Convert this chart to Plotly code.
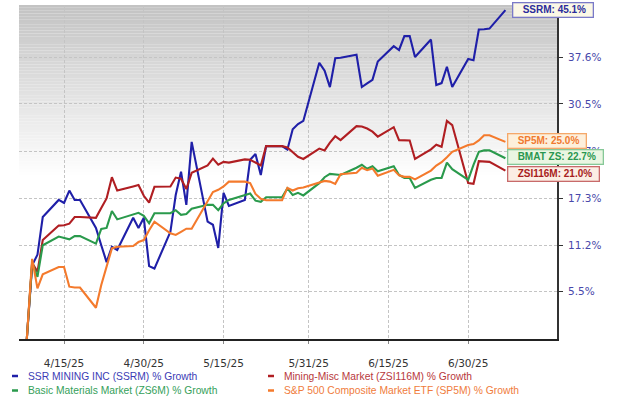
import math
import plotly.graph_objects as go

# ---------------- data ----------------
dates = ["2025-04-08", "2025-04-09", "2025-04-10", "2025-04-11", "2025-04-14", "2025-04-15",
         "2025-04-16", "2025-04-17", "2025-04-18", "2025-04-21", "2025-04-22", "2025-04-23",
         "2025-04-24", "2025-04-25", "2025-04-28", "2025-04-29", "2025-04-30",
         "2025-05-01", "2025-05-02", "2025-05-05", "2025-05-06", "2025-05-07", "2025-05-08",
         "2025-05-09", "2025-05-12", "2025-05-13", "2025-05-14", "2025-05-15", "2025-05-16",
         "2025-05-19", "2025-05-20", "2025-05-21", "2025-05-22", "2025-05-23", "2025-05-26",
         "2025-05-27", "2025-05-28", "2025-05-29", "2025-05-30",
         "2025-06-02", "2025-06-03", "2025-06-04", "2025-06-05", "2025-06-06", "2025-06-09",
         "2025-06-10", "2025-06-11", "2025-06-12", "2025-06-13", "2025-06-16", "2025-06-17",
         "2025-06-18", "2025-06-19", "2025-06-20", "2025-06-23", "2025-06-24", "2025-06-25",
         "2025-06-26", "2025-06-27", "2025-06-30",
         "2025-07-01", "2025-07-02", "2025-07-03", "2025-07-04", "2025-07-07"]

ssrm_growth = [0, 8.7, 10.0, 14.8, 17.05, 16.65, 18.3, 17.05, 17.05, 13.4, 11.2, 9.1, 11.0, 10.6,
               14.7, 13.4, 14.7,
               8.6, 8.3, 12.9, 17.7, 20.85, 16.4, 25.0, 14.2, 13.8, 10.85, 18.0, 16.25, 17.05,
               22.5, 23.3, 20.4, 24.4, 24.4, 23.9, 26.8, 27.55, 28.0,
               36.7, 35.5, 33.0, 37.4, 37.5, 37.95, 33.0, 33.55, 34.1, 36.9, 39.3, 38.7, 40.9,
               40.9, 37.6, 40.35, 33.3, 33.6, 36.1, 33.0, 37.3,
               37.1, 41.95, 42.0, 42.1, 45.1]

zsi116m_growth = [0, 9.0, 7.9, 11.85, 13.7, 13.75, 13.95, 14.8, 14.8, 14.7, 16.0, 17.25, 20.1, 18.3,
                  18.85, 19.05, 17.6,
                  16.7, 18.8, 18.85, 20.05, 19.9, 18.5, 20.7, 21.7, 22.65, 21.8, 22.2, 22.1, 22.55,
                  22.5, 22.1, 21.7, 24.4, 24.4, 24.2, 23.5, 22.9, 22.6,
                  24.05, 23.8, 24.9, 25.8, 25.25, 27.25, 27.2, 26.9, 26.45, 25.75, 27.1, 25.25, 25.2,
                  25.2, 22.6, 23.95, 24.6, 24.3, 28.0, 27.4, 19.3,
                  19.2, 22.3, 22.2, 22.2, 21.0]

zs6m_growth = [0, 9.0, 7.3, 11.2, 12.3, 12.1, 11.95, 12.35, 12.35, 11.4, 13.26, 13.4, 15.6, 14.5,
               15.15, 15.35, 14.95,
               14.0, 15.3, 15.3, 15.7, 15.1, 15.2, 15.9, 16.4, 16.4, 15.7, 16.6, 17.05, 17.7,
               17.9, 16.95, 16.8, 17.4, 17.4, 18.6, 17.7, 18.0, 17.65,
               19.3, 20.1, 20.55, 20.5, 20.4, 21.4, 21.8, 21.25, 21.6, 20.9, 21.6, 20.4, 20.0,
               20.0, 18.65, 19.75, 20.0, 20.0, 22.1, 21.2, 19.75,
               21.8, 23.6, 23.8, 23.8, 22.7]

sp5m_growth = [0, 9.5, 5.9, 7.6, 8.5, 8.5, 6.1, 6.0, 6.0, 3.6, 6.3, 8.4, 10.8, 11.0,
               11.1, 11.6, 11.85,
               13.1, 14.2, 12.7, 12.5, 12.9, 13.3, 13.3, 17.0, 18.1, 18.4, 18.85, 19.5, 19.5,
               19.3, 17.85, 17.2, 17.0, 17.0, 18.65, 18.3, 18.6, 18.7,
               19.3, 19.6, 19.5, 19.2, 20.5, 20.7, 21.4, 21.05, 21.3, 20.3, 21.1, 20.35, 20.15,
               20.15, 19.8, 21.0, 21.7, 22.15, 22.85, 23.6, 24.55,
               24.7, 25.2, 25.95, 25.95, 25.0]

y_tick_values = [5.5, 11.2, 17.3, 23.7, 30.5, 37.6]
y_tick_labels = ["5.5%", "11.2%", "17.3%", "23.7%", "30.5%", "37.6%"]
x_tick_dates = ["2025-04-15", "2025-04-30", "2025-05-15", "2025-05-31", "2025-06-15", "2025-06-30"]
x_tick_labels = ["4/15/25", "4/30/25", "5/15/25", "5/31/25", "6/15/25", "6/30/25"]

series = [
    # name, values, line colour, legend text colour, tag label, tag text, tag border, tag fill, yshift
    ("SSR MINING INC (SSRM) % Growth", ssrm_growth, "#1f1fa8", "#3b3bb5",
     "SSRM", "#2c2c9c", "#7a7ac8", "#fbf8e6", 0),
    ("Mining-Misc Market (ZSI116M) % Growth", zsi116m_growth, "#b01e22", "#b8383c",
     "ZSI116M", "#a81c1c", "#c86a6a", "#fbeee4", -3),
    ("Basic Materials Market (ZS6M) % Growth", zs6m_growth, "#2a9a4c", "#35a05a",
     "BMAT ZS", "#2a9650", "#86c898", "#eaf6e2", 1),
    ("S&P 500 Composite Market ETF (SP5M) % Growth", sp5m_growth, "#f47a2c", "#f07c3c",
     "SP5M", "#f07a30", "#f5a86a", "#fdf0dc", 1),
]

fig = go.Figure()

for i in [0, 1, 2, 3]:
    name, vals, col = series[i][0], series[i][1], series[i][2]
    fig.add_trace(go.Scatter(
        x=dates, y=[1 + v / 100 for v in vals], mode="lines", name=name,
        line=dict(color=col, width=2.1), showlegend=False, hoverinfo="skip"))

# ---------------- background gradient (style only) ----------------
shapes = []
n_bands = 60
for k in range(n_bands):
    t = (k + 0.5) / n_bands
    g = int(round(255 - (255 - 194) * t))
    shapes.append(dict(type="rect", xref="paper", yref="paper", x0=0, x1=1,
                       y0=0.49 + 0.51 * k / n_bands, y1=0.49 + 0.51 * (k + 1) / n_bands,
                       line=dict(width=0), fillcolor=f"rgb({g},{g},{g})", layer="below"))

# ---------------- legend built from text ----------------
W, H = 538.0, 334.0
def px_x(p):
    return (p - 19) / W
def px_y(p):
    return (339 - p) / H

legend_pos = [(26, 376), (282, 376), (26, 390.5), (282, 390.5)]
annotations = []
for (lx, ly), i in zip(legend_pos, [0, 1, 2, 3]):
    name, lcol, tcol = series[i][0], series[i][2], series[i][3]
    annotations.append(dict(xref="paper", yref="paper", x=px_x(lx), y=px_y(ly),
                            xanchor="left", yanchor="middle", showarrow=False, text=name,
                            font=dict(family="Liberation Sans, Arial", size=10.3, color=tcol)))
    shapes.append(dict(type="line", xref="paper", yref="paper",
                       x0=px_x(lx - 14), x1=px_x(lx - 8), y0=px_y(ly), y1=px_y(ly),
                       line=dict(color=lcol, width=2.5)))

# ---------------- end-of-line tags ----------------
for i in [0, 3, 2, 1]:
    vals = series[i][1]
    tag, tcol, bcol, fcol, ysh = series[i][4], series[i][5], series[i][6], series[i][7], series[i][8]
    annotations.append(dict(
        x=dates[-1], y=math.log10(1 + vals[-1] / 100), xref="x", yref="y",
        xanchor="left", yanchor="middle", xshift=7 if i == 0 else 2, yshift=ysh,
        showarrow=False, text=f"<b>&nbsp;&nbsp;&nbsp;{tag}: {vals[-1]:.1f}%&nbsp;&nbsp;</b>",
        font=dict(family="Liberation Sans, Arial", size=10, color=tcol),
        bgcolor=fcol, bordercolor=bcol, borderwidth=1.3, borderpad=1))

fig.update_layout(
    width=620, height=397,
    margin=dict(l=19, r=63, t=5, b=58),
    paper_bgcolor="white", plot_bgcolor="white",
    showlegend=False,
    shapes=shapes, annotations=annotations,
    xaxis=dict(
        type="date", range=["2025-04-06 12:45", "2025-07-16 16:50"],
        tickvals=x_tick_dates, ticktext=x_tick_labels,
        showgrid=True, gridcolor="#c4c4c4", gridwidth=1, griddash="3px,2px",
        showline=True, linecolor="#222222", linewidth=2,
        ticks="outside", ticklen=3, tickcolor="#888888",
        tickfont=dict(family="DejaVu Sans, Verdana", size=10.5, color="#333333"),
        ticklabelstandoff=10, zeroline=False, fixedrange=True),
    yaxis=dict(
        type="log", range=[0, 0.1642], side="right",
        tickvals=[1 + v / 100 for v in y_tick_values], ticktext=y_tick_labels,
        showgrid=True, gridcolor="#c4c4c4", gridwidth=1, griddash="3px,2px",
        showline=True, linecolor="#333333", linewidth=2,
        ticks="outside", ticklen=4, tickcolor="#333333",
        tickfont=dict(family="DejaVu Sans, Verdana", size=10.5, color="#4848aa"),
        ticklabelstandoff=3, zeroline=False, fixedrange=True),
)

# remove the browser's default 8px page margin so the 620x397 figure fills the window
fig.write_html("out.html",
               config={"displayModeBar": False},
               post_script="document.body.style.margin='0';document.body.style.overflow='hidden';")
